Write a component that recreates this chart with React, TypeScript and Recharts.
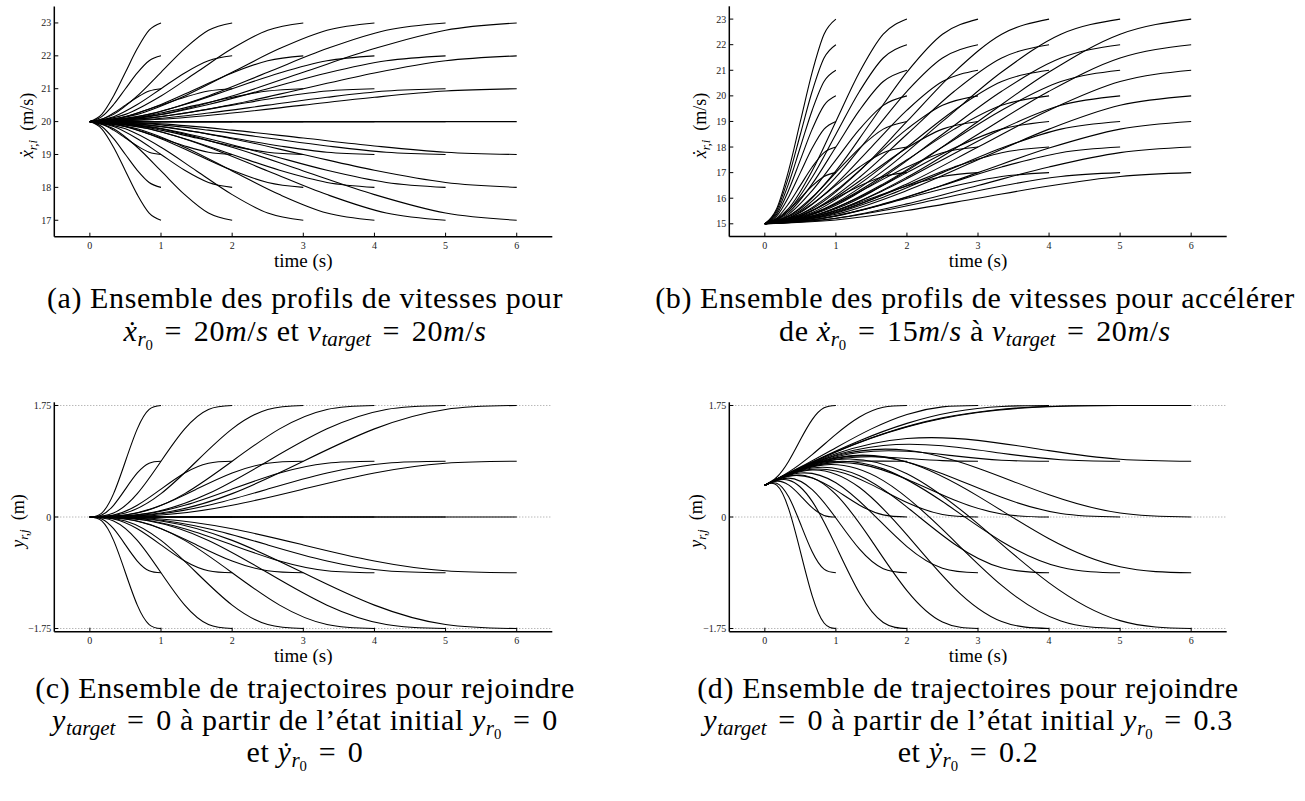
import React from 'react';
import { LineChart, Line, XAxis, YAxis, ReferenceLine } from 'recharts';

const SERIF = '"Liberation Serif", "Times New Roman", serif';

// Durations (s) of each family of profiles
const durations = [1, 2, 3, 4, 5, 6];
const timeTicks = [0, 1, 2, 3, 4, 5, 6];

// Sample instants (s) read along each family, one row per duration
const sampleTimes = [
  [0, 0.1667, 0.3333, 0.5, 0.6667, 0.8333, 1],
  [0, 0.3333, 0.6667, 1, 1.3333, 1.6667, 2],
  [0, 0.5, 1, 1.5, 2, 2.5, 3],
  [0, 0.6667, 1.3333, 2, 2.6667, 3.3333, 4],
  [0, 0.8333, 1.6667, 2.5, 3.3333, 4.1667, 5],
  [0, 1, 2, 3, 4, 5, 6],
];

// (a) speed profiles from 20 m/s, targets 23..17
const speedTicksA = [17, 18, 19, 20, 21, 22, 23];
const speedA = [
  [20, 20.22, 20.78, 21.5, 22.22, 22.78, 23],
  [20, 20.15, 20.52, 21, 21.48, 21.85, 22],
  [20, 20.07, 20.26, 20.5, 20.74, 20.93, 21],
  [20, 20, 20, 20, 20, 20, 20],
  [20, 19.93, 19.74, 19.5, 19.26, 19.07, 19],
  [20, 19.85, 19.48, 19, 18.52, 18.15, 18],
  [20, 19.78, 19.22, 18.5, 17.78, 17.22, 17],
];

// (b) speed profiles from 15 m/s, targets 23..17
const speedTicksB = [15, 16, 17, 18, 19, 20, 21, 22, 23];
const speedB = [
  [15, 15.59, 17.07, 19, 20.93, 22.41, 23],
  [15, 15.52, 16.82, 18.5, 20.18, 21.48, 22],
  [15, 15.44, 16.56, 18, 19.44, 20.56, 21],
  [15, 15.37, 16.3, 17.5, 18.7, 19.63, 20],
  [15, 15.3, 16.04, 17, 17.96, 18.7, 19],
  [15, 15.22, 15.78, 16.5, 17.22, 17.78, 18],
  [15, 15.15, 15.52, 16, 16.48, 16.85, 17],
];

// (c) lateral trajectories from 0 m, targets 1.75..-1.75
const lateralTicks = [-1.75, 0, 1.75];
const lateralC = [
  [0, 0.062, 0.367, 0.875, 1.383, 1.688, 1.75],
  [0, 0.031, 0.184, 0.438, 0.691, 0.844, 0.875],
  [0, 0, 0, 0, 0, 0, 0],
  [0, -0.031, -0.184, -0.438, -0.691, -0.844, -0.875],
  [0, -0.062, -0.367, -0.875, -1.383, -1.688, -1.75],
];

// (d) lateral trajectories from 0.5 m with initial lateral speed, per duration
const lateralD1 = [
  [0.5, 0.624, 0.871, 1.211, 1.528, 1.713, 1.75],
  [0.5, 0.593, 0.687, 0.773, 0.837, 0.869, 0.875],
  [0.5, 0.562, 0.504, 0.336, 0.146, 0.025, 0],
  [0.5, 0.531, 0.32, -0.102, -0.546, -0.819, -0.875],
  [0.5, 0.5, 0.136, -0.539, -1.237, -1.663, -1.75],
];
const lateralD2 = [
  [0.5, 0.704, 0.98, 1.297, 1.569, 1.721, 1.75],
  [0.5, 0.673, 0.796, 0.859, 0.878, 0.877, 0.875],
  [0.5, 0.641, 0.612, 0.422, 0.186, 0.033, 0],
  [0.5, 0.61, 0.429, -0.016, -0.505, -0.811, -0.875],
  [0.5, 0.579, 0.245, -0.453, -1.196, -1.655, -1.75],
];
const lateralD3 = [
  [0.5, 0.783, 1.088, 1.383, 1.61, 1.728, 1.75],
  [0.5, 0.752, 0.905, 0.945, 0.919, 0.884, 0.875],
  [0.5, 0.721, 0.721, 0.508, 0.227, 0.04, 0],
  [0.5, 0.69, 0.537, 0.07, -0.464, -0.804, -0.875],
  [0.5, 0.659, 0.354, -0.367, -1.155, -1.648, -1.75],
];
const lateralD4 = [
  [0.5, 0.863, 1.197, 1.469, 1.651, 1.735, 1.75],
  [0.5, 0.832, 1.013, 1.031, 0.959, 0.891, 0.875],
  [0.5, 0.801, 0.83, 0.594, 0.268, 0.047, 0],
  [0.5, 0.77, 0.646, 0.156, -0.423, -0.797, -0.875],
  [0.5, 0.738, 0.462, -0.281, -1.115, -1.64, -1.75],
];
const lateralD5 = [
  [0.5, 0.942, 1.306, 1.555, 1.691, 1.743, 1.75],
  [0.5, 0.911, 1.122, 1.117, 1.0, 0.899, 0.875],
  [0.5, 0.88, 0.938, 0.68, 0.309, 0.055, 0],
  [0.5, 0.849, 0.755, 0.242, -0.383, -0.789, -0.875],
  [0.5, 0.818, 0.571, -0.195, -1.074, -1.633, -1.75],
];
const lateralD6 = [
  [0.5, 1.022, 1.414, 1.641, 1.732, 1.75, 1.75],
  [0.5, 0.991, 1.231, 1.203, 1.041, 0.906, 0.875],
  [0.5, 0.96, 1.047, 0.766, 0.349, 0.062, 0],
  [0.5, 0.929, 0.863, 0.328, -0.342, -0.782, -0.875],
  [0.5, 0.898, 0.68, -0.109, -1.033, -1.626, -1.75],
];
const lateralD = [lateralD1, lateralD2, lateralD3, lateralD4, lateralD5, lateralD6];

type Pt = { t: number; v: number };
type Curve = { id: string; points: Pt[] };

function buildCurves(prefix: string, byDuration: number[][][]): Curve[] {
  const out: Curve[] = [];
  durations.forEach((T, di) => {
    byDuration[di].forEach((vals, k) => {
      out.push({
        id: `${prefix}-${T}-${k}`,
        points: sampleTimes[di].map((t, j) => ({ t, v: vals[j] })),
      });
    });
  });
  return out;
}

const curvesA = buildCurves('a', durations.map(() => speedA));
const curvesB = buildCurves('b', durations.map(() => speedB));
const curvesC = buildCurves('c', durations.map(() => lateralC));
const curvesD = buildCurves('d', lateralD);

const fmtInt = (v: number) => String(v);
const fmtLat = (v: number) => (v < 0 ? '\u2212' + String(-v) : String(v));

const BottomTick = (p: any) => (
  <g>
    <line x1={p.x} x2={p.x} y1={p.y} y2={p.y - 4} stroke="#000" strokeWidth={1} />
    <text x={p.x} y={p.y + 12} textAnchor="middle" fontSize={10} fontFamily={SERIF} fill="#222">
      {p.payload.value}
    </text>
  </g>
);
const TopTick = (p: any) => (
  <line x1={p.x} x2={p.x} y1={p.y} y2={p.y + 4} stroke="#222" strokeWidth={1} />
);
const RightTick = (p: any) => (
  <line x1={p.x - 4} x2={p.x} y1={p.y} y2={p.y} stroke="#222" strokeWidth={1} />
);
const makeLeftTick = (fmt: (v: number) => string) => (p: any) => (
  <g>
    <line x1={p.x} x2={p.x + 4} y1={p.y} y2={p.y} stroke="#000" strokeWidth={1} />
    <text x={p.x - 3} y={p.y + 3.5} textAnchor="end" fontSize={10} fontFamily={SERIF} fill="#222">
      {fmt(p.payload.value)}
    </text>
  </g>
);

const makeTimeLabel = (offset: number) => (props: any) => {
  const vb = props.viewBox || {};
  return (
    <text x={vb.x + vb.width / 2} y={vb.y + offset} textAnchor="middle" fontSize={19} fontFamily={SERIF} fill="#000">
      time (s)
    </text>
  );
};

const makeYLabel = (kind: 'speed' | 'lateral', cxAbs: number) => (props: any) => {
  const vb = props.viewBox || {};
  const cx = cxAbs;
  const cy = vb.y + vb.height / 2 + 4;
  return (
    <text
      transform={`rotate(-90 ${cx} ${cy})`}
      x={cx}
      y={cy}
      textAnchor="middle"
      fontSize={18}
      fontFamily={SERIF}
      fill="#000"
    >
      <tspan fontStyle="italic">{kind === 'speed' ? '\u1E8B' : 'y'}</tspan>
      <tspan fontStyle="italic" fontSize={13} dy={4}>
        {kind === 'speed' ? 'r,i' : 'r,j'}
      </tspan>
      <tspan dy={-4}>{kind === 'speed' ? '\u00A0\u00A0(m/s)' : '\u00A0\u00A0(m)'}</tspan>
    </text>
  );
};

type PanelProps = {
  left: number;
  top: number;
  width: number;
  height: number;
  marginTop: number;
  marginRight: number;
  yAxisWidth: number;
  xAxisHeight: number;
  yDomain: [number, number];
  yTicks: number[];
  fmt: (v: number) => string;
  curves: Curve[];
  curveType: 'monotone' | 'natural';
  grid: boolean;
  yKind: 'speed' | 'lateral';
  yLabelX: number;
  timeOffset: number;
};

function Panel(p: PanelProps) {
  return (
    <div style={{ position: 'absolute', left: p.left, top: p.top, width: p.width, height: p.height }}>
      <LineChart
        width={p.width}
        height={p.height}
        margin={{ top: p.marginTop, right: p.marginRight, bottom: 0, left: 0 }}
      >
        <XAxis
          xAxisId="b"
          dataKey="t"
          type="number"
          domain={[-0.5, 6.5]}
          ticks={timeTicks}
          allowDataOverflow
          interval={0}
          height={p.xAxisHeight}
          tickSize={0}
          tickMargin={0}
          tickLine={false}
          tick={BottomTick}
          axisLine={{ stroke: '#000', strokeWidth: 1.5 }}
          label={makeTimeLabel(p.timeOffset)}
        />
        <XAxis
          xAxisId="top"
          orientation="top"
          dataKey="t"
          type="number"
          domain={[-0.5, 6.5]}
          ticks={timeTicks}
          allowDataOverflow
          interval={0}
          height={0}
          tickSize={0}
          tickMargin={0}
          tickLine={false}
          tick={TopTick}
          axisLine={{ stroke: '#222', strokeWidth: 1.3 }}
        />
        <YAxis
          yAxisId="l"
          type="number"
          domain={p.yDomain}
          ticks={p.yTicks}
          allowDataOverflow
          interval={0}
          width={p.yAxisWidth}
          tickSize={0}
          tickMargin={0}
          tickLine={false}
          tick={makeLeftTick(p.fmt)}
          axisLine={{ stroke: '#000', strokeWidth: 1.5 }}
          label={makeYLabel(p.yKind, p.yLabelX)}
        />
        <YAxis
          yAxisId="r"
          orientation="right"
          type="number"
          domain={p.yDomain}
          ticks={p.yTicks}
          allowDataOverflow
          interval={0}
          width={0}
          tickSize={0}
          tickMargin={0}
          tickLine={false}
          tick={RightTick}
          axisLine={{ stroke: '#222', strokeWidth: 1.3 }}
        />
        {p.grid &&
          p.yTicks.map((v) => (
            <ReferenceLine
              key={`g${v}`}
              xAxisId="b"
              yAxisId="l"
              y={v}
              stroke="#9a9a9a"
              strokeDasharray="1 2"
              strokeWidth={1}
            />
          ))}
        {p.curves.map((c) => (
          <Line
            key={c.id}
            xAxisId="b"
            yAxisId="l"
            data={c.points}
            dataKey="v"
            type={p.curveType}
            stroke="#000"
            strokeWidth={1.1}
            dot={false}
            activeDot={false}
            isAnimationActive={false}
          />
        ))}
      </LineChart>
    </div>
  );
}

const Sub = ({ children }: { children: React.ReactNode }) => (
  <span style={{ fontSize: '0.7em', verticalAlign: '-0.25em', letterSpacing: 0 }}>{children}</span>
);
const R0 = () => (
  <Sub>
    <i>r</i>
    <Sub>0</Sub>
  </Sub>
);
const Eq = () => <span style={{ margin: '0 0.12em' }}>=</span>;

const captionStyle = (cx: number, cy: number): React.CSSProperties => ({
  position: 'absolute',
  left: cx - 400,
  width: 800,
  top: cy - 16,
  height: 32,
  lineHeight: '32px',
  textAlign: 'center',
  fontFamily: SERIF,
  fontSize: 30,
  letterSpacing: 0.6,
  whiteSpace: 'nowrap',
  color: '#000',
});

export default function App() {
  const LX = 305;
  const RX = 968;
  const BX = 975;
  return (
    <div
      style={{
        position: 'absolute',
        left: 0,
        top: 0,
        width: 1305,
        height: 801,
        background: '#fff',
        overflow: 'hidden',
      }}
    >
      <Panel
        left={0}
        top={0}
        width={560}
        height={275}
        marginTop={6.5}
        marginRight={7.7}
        yAxisWidth={54.3}
        xAxisHeight={38.3}
        yDomain={[16.5, 23.5]}
        yTicks={speedTicksA}
        fmt={fmtInt}
        curves={curvesA}
        curveType="monotone"
        grid={false}
        yKind="speed"
        yLabelX={33}
        timeOffset={30.5}
      />
      <Panel
        left={660}
        top={0}
        width={575}
        height={275}
        marginTop={6.3}
        marginRight={8.3}
        yAxisWidth={69.3}
        xAxisHeight={38.4}
        yDomain={[14.5, 23.5]}
        yTicks={speedTicksB}
        fmt={fmtInt}
        curves={curvesB}
        curveType="monotone"
        grid={false}
        yKind="speed"
        yLabelX={46}
        timeOffset={30.5}
      />
      <Panel
        left={0}
        top={390}
        width={560}
        height={275}
        marginTop={12.3}
        marginRight={7.7}
        yAxisWidth={54.3}
        xAxisHeight={33.3}
        yDomain={[-1.8, 1.8]}
        yTicks={lateralTicks}
        fmt={fmtLat}
        curves={curvesC}
        curveType="natural"
        grid={true}
        yKind="lateral"
        yLabelX={24}
        timeOffset={30.5}
      />
      <Panel
        left={660}
        top={390}
        width={575}
        height={275}
        marginTop={12.3}
        marginRight={8.3}
        yAxisWidth={69.3}
        xAxisHeight={33.3}
        yDomain={[-1.8, 1.8]}
        yTicks={lateralTicks}
        fmt={fmtLat}
        curves={curvesD}
        curveType="natural"
        grid={true}
        yKind="lateral"
        yLabelX={42}
        timeOffset={30.5}
      />

      <div style={captionStyle(LX, 298)}>(a) Ensemble des profils de vitesses pour</div>
      <div style={captionStyle(LX, 331)}>
        <i>{'\u1E8B'}</i>
        <R0 /> <Eq /> 20<i>m</i>/<i>s</i> et <i>v</i>
        <Sub>
          <i>target</i>
        </Sub>{' '}
        <Eq /> 20<i>m</i>/<i>s</i>
      </div>

      <div style={captionStyle(BX, 298)}>(b) Ensemble des profils de vitesses pour accélérer</div>
      <div style={captionStyle(BX, 331)}>
        de <i>{'\u1E8B'}</i>
        <R0 /> <Eq /> 15<i>m</i>/<i>s</i> à <i>v</i>
        <Sub>
          <i>target</i>
        </Sub>{' '}
        <Eq /> 20<i>m</i>/<i>s</i>
      </div>

      <div style={captionStyle(LX, 688)}>(c) Ensemble de trajectoires pour rejoindre</div>
      <div style={captionStyle(LX, 720)}>
        <i>y</i>
        <Sub>
          <i>target</i>
        </Sub>{' '}
        <Eq /> 0 à partir de l’état initial <i>y</i>
        <R0 /> <Eq /> 0
      </div>
      <div style={captionStyle(LX, 752)}>
        et <i>{'\u1E8F'}</i>
        <R0 /> <Eq /> 0
      </div>

      <div style={captionStyle(RX, 688)}>(d) Ensemble de trajectoires pour rejoindre</div>
      <div style={captionStyle(RX, 720)}>
        <i>y</i>
        <Sub>
          <i>target</i>
        </Sub>{' '}
        <Eq /> 0 à partir de l’état initial <i>y</i>
        <R0 /> <Eq /> 0.3
      </div>
      <div style={captionStyle(RX, 752)}>
        et <i>{'\u1E8F'}</i>
        <R0 /> <Eq /> 0.2
      </div>
    </div>
  );
}
